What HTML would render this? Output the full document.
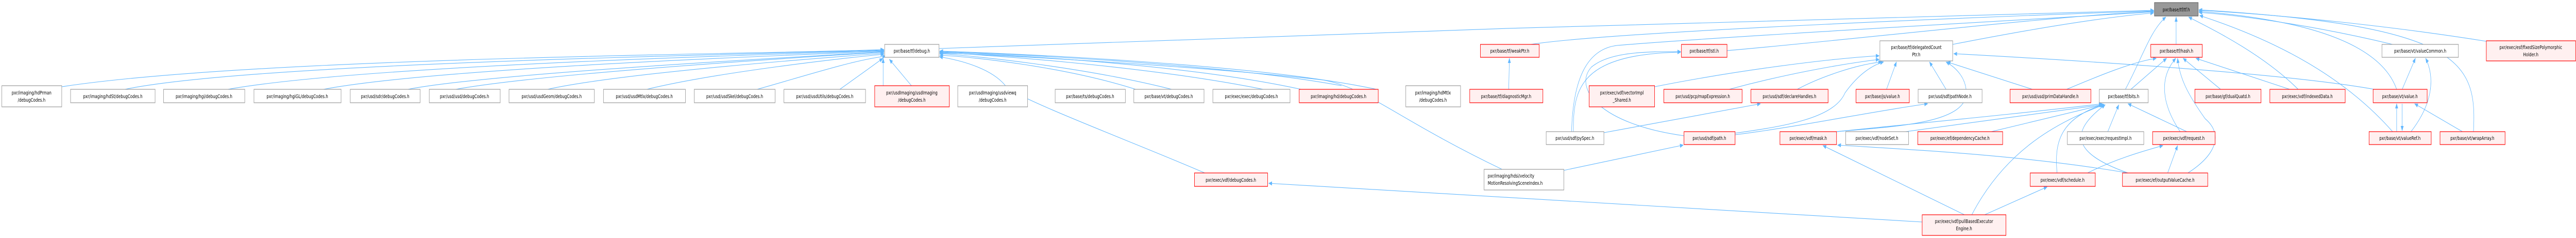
<!DOCTYPE html>
<html><head><meta charset="utf-8"><style>
html,body{margin:0;padding:0;background:#fff;overflow:hidden;width:100vw;height:100vh;}
svg{display:block;width:100vw;height:100vh;}
text{font-family:"DejaVu Sans","Liberation Sans",sans-serif;font-size:10px;fill:#000;}
.e{fill:none;stroke:#63b8ff;stroke-width:1.1;}
.w{fill:#fff;stroke:#999;stroke-width:1.2;}
.r{fill:#fff0f0;stroke:#f00;stroke-width:1.2;}
.g{fill:#999;stroke:#666;stroke-width:1.2;}
</style></head><body>
<svg viewBox="0 0 7009 461" preserveAspectRatio="none" xmlns="http://www.w3.org/2000/svg">
<defs><marker id="a" markerWidth="10" markerHeight="8" refX="9" refY="4" orient="auto" markerUnits="userSpaceOnUse"><path d="M0,0 L10,4 L0,8 z" fill="#63b8ff"/></marker></defs>
<g>
<path class="e" marker-end="url(#a)" d="M168,168 C700,110 2100,105 2405,96"/>
<path class="e" marker-end="url(#a)" d="M340,173 C700,120 2100,105 2405,97"/>
<path class="e" marker-end="url(#a)" d="M620,173 C1000,125 2150,105 2405,98"/>
<path class="e" marker-end="url(#a)" d="M880,173 C1200,130 2200,106 2405,99"/>
<path class="e" marker-end="url(#a)" d="M1110,173 C1350,140 2250,108 2405,100"/>
<path class="e" marker-end="url(#a)" d="M1240,173 C1500,140 2250,108 2405,101"/>
<path class="e" marker-end="url(#a)" d="M1490,173 C1700,140 2280,110 2405,103"/>
<path class="e" marker-end="url(#a)" d="M1760,173 C1950,140 2300,112 2405,105"/>
<path class="e" marker-end="url(#a)" d="M2060,173 C2200,145 2330,115 2410,109"/>
<path class="e" marker-end="url(#a)" d="M2285,173 C2330,150 2370,130 2402,113"/>
<path class="e" marker-end="url(#a)" d="M2403,166 L2403,113"/>
<path class="e" marker-end="url(#a)" d="M2480,166 L2420,115"/>
<path class="e" marker-end="url(#a)" d="M3090,173 C2900,130 2650,110 2557,107"/>
<path class="e" marker-end="url(#a)" d="M3188,173 C2950,130 2650,108 2557,104"/>
<path class="e" marker-end="url(#a)" d="M3437,173 C3100,125 2650,105 2557,102"/>
<path class="e" marker-end="url(#a)" d="M3540,173 C3200,120 2650,103 2557,101"/>
<path class="e" marker-end="url(#a)" d="M3650,166 C3300,120 2650,102 2557,100"/>
<path class="e" marker-end="url(#a)" d="M3745,173 C3400,120 2650,101 2557,99"/>
<path class="e" marker-end="url(#a)" d="M4087,328 C3800,230 3720,170 3600,155 C3300,130 2700,105 2557,103"/>
<path class="e" marker-end="url(#a)" d="M3278,335 C3100,280 2800,200 2740,170 C2700,130 2600,115 2556,110"/>
<path class="e" marker-end="url(#a)" d="M2555,94 C3500,70 5000,30 5860,20"/>
<path class="e" marker-end="url(#a)" d="M4165,86 C4400,60 5500,30 5860,21"/>
<path class="e" marker-end="url(#a)" d="M4105,173 L4107,113"/>
<path class="e" marker-end="url(#a)" d="M4699,98 C5000,80 5600,30 5860,22"/>
<path class="e" marker-end="url(#a)" d="M4281,255 C4280,170 4300,105 4573,101"/>
<path class="e" marker-end="url(#a)" d="M4276,255 C4280,150 4320,95 4400,88 C4700,70 5600,35 5860,23"/>
<path class="e" marker-end="url(#a)" d="M4582,263 C4350,240 4280,170 4330,130 C4380,100 4480,100 4573,100"/>
<path class="e" marker-end="url(#a)" d="M4364,257 L4790,201"/>
<path class="e" marker-end="url(#a)" d="M4502,168 C4700,140 4950,115 5113,108"/>
<path class="e" marker-end="url(#a)" d="M4705,173 C4850,145 5000,125 5113,115"/>
<path class="e" marker-end="url(#a)" d="M4255,330 L4580,281"/>
<path class="e" marker-end="url(#a)" d="M4890,173 C4950,150 5050,125 5120,120"/>
<path class="e" marker-end="url(#a)" d="M4721,261 C4900,245 5100,215 5245,201"/>
<path class="e" marker-end="url(#a)" d="M4721,258 C4850,245 4990,230 5020,180 C5060,140 5100,125 5125,120"/>
<path class="e" marker-end="url(#a)" d="M5133,173 L5160,120"/>
<path class="e" marker-end="url(#a)" d="M5295,173 L5250,120"/>
<path class="e" marker-end="url(#a)" d="M5530,173 L5298,120"/>
<path class="e" marker-end="url(#a)" d="M4997,255 C5150,245 5350,240 5350,180 C5350,150 5320,130 5295,120"/>
<path class="e" marker-end="url(#a)" d="M5313,86 C5500,60 5700,35 5860,25"/>
<path class="e" marker-end="url(#a)" d="M6460,173 C6200,140 5600,115 5316,104"/>
<path class="e" marker-end="url(#a)" d="M5623,173 C5700,150 5800,120 5867,113"/>
<path class="e" marker-end="url(#a)" d="M5783,173 C5830,110 5850,60 5893,33"/>
<path class="e" marker-end="url(#a)" d="M5798,173 L5895,113"/>
<path class="e" marker-end="url(#a)" d="M5921,86 L5921,33"/>
<path class="e" marker-end="url(#a)" d="M6253,173 C6150,100 6000,50 5955,33"/>
<path class="e" marker-end="url(#a)" d="M6230,173 L5975,113"/>
<path class="e" marker-end="url(#a)" d="M6042,173 L5940,113"/>
<path class="e" marker-end="url(#a)" d="M6510,255 C6380,150 6200,80 5985,30"/>
<path class="e" marker-end="url(#a)" d="M6521,173 C6480,90 6300,40 5983,22"/>
<path class="e" marker-end="url(#a)" d="M6510,86 C6300,50 6100,30 5983,24"/>
<path class="e" marker-end="url(#a)" d="M6765,80 C6500,50 6200,28 5983,20"/>
<path class="e" marker-end="url(#a)" d="M6730,255 C6740,120 6700,50 5983,19"/>
<path class="e" marker-end="url(#a)" d="M6536,173 L6572,113"/>
<path class="e" marker-end="url(#a)" d="M6560,255 C6620,200 6625,150 6600,113"/>
<path class="e" marker-end="url(#a)" d="M6521,255 L6521,201"/>
<path class="e" marker-end="url(#a)" d="M6536,201 L6536,253"/>
<path class="e" marker-end="url(#a)" d="M6700,255 L6570,201"/>
<path class="e" marker-end="url(#a)" d="M5932,255 C5880,200 5875,150 5920,113"/>
<path class="e" marker-end="url(#a)" d="M5953,335 C6030,300 6050,260 6000,230 C5950,180 5930,150 5925,113"/>
<path class="e" marker-end="url(#a)" d="M4997,255 C5200,240 5500,220 5720,201"/>
<path class="e" marker-end="url(#a)" d="M5185,255 C5400,235 5600,215 5720,203"/>
<path class="e" marker-end="url(#a)" d="M5418,255 L5722,203"/>
<path class="e" marker-end="url(#a)" d="M5597,335 C5590,280 5600,230 5725,202"/>
<path class="e" marker-end="url(#a)" d="M5790,335 C5650,300 5620,260 5728,203"/>
<path class="e" marker-end="url(#a)" d="M5365,416 C5450,300 5580,240 5725,203"/>
<path class="e" marker-end="url(#a)" d="M5735,255 L5765,203"/>
<path class="e" marker-end="url(#a)" d="M5950,255 L5790,201"/>
<path class="e" marker-end="url(#a)" d="M5790,335 C5500,300 5200,290 5000,281"/>
<path class="e" marker-end="url(#a)" d="M5898,335 L5925,282"/>
<path class="e" marker-end="url(#a)" d="M5680,335 C5750,310 5820,295 5885,282"/>
<path class="e" marker-end="url(#a)" d="M5345,416 L4960,282"/>
<path class="e" marker-end="url(#a)" d="M5400,416 L5570,362"/>
<path class="e" marker-end="url(#a)" d="M5230,430 L3452,355"/>
</g>
<g>
<rect class="g" x="5862" y="5" width="119" height="26"/><text x="5921.5" y="22" text-anchor="middle">pxr/base/tf/tf.h</text>
<rect class="w" x="2407" y="86" width="148" height="25"/><text x="2481" y="102" text-anchor="middle">pxr/base/tf/debug.h</text>
<rect class="r" x="4028" y="86" width="160" height="25"/><text x="4108" y="102" text-anchor="middle">pxr/base/tf/weakPtr.h</text>
<rect class="r" x="4575" y="86" width="124" height="25"/><text x="4637" y="102" text-anchor="middle">pxr/base/tf/stl.h</text>
<rect class="w" x="5115" y="79" width="198" height="39"/><text x="5214" y="95" text-anchor="middle">pxr/base/tf/delegatedCount</text><text x="5214" y="109" text-anchor="middle">Ptr.h</text>
<rect class="r" x="5852" y="86" width="140" height="25"/><text x="5922" y="102" text-anchor="middle">pxr/base/tf/hash.h</text>
<rect class="w" x="6481" y="86" width="208" height="25"/><text x="6585" y="102" text-anchor="middle">pxr/base/vt/valueCommon.h</text>
<rect class="r" x="6765" y="79" width="243" height="39"/><text x="6886" y="95" text-anchor="middle">pxr/exec/esf/fixedSizePolymorphic</text><text x="6886" y="109" text-anchor="middle">Holder.h</text>

<rect class="w" x="5" y="166" width="163" height="41"/><text x="86" y="183" text-anchor="middle">pxr/imaging/hdPrman</text><text x="86" y="197" text-anchor="middle">/debugCodes.h</text>
<rect class="w" x="192" y="173" width="230" height="26"/><text x="307" y="190" text-anchor="middle">pxr/imaging/hdSt/debugCodes.h</text>
<rect class="w" x="445" y="173" width="221" height="26"/><text x="555" y="190" text-anchor="middle">pxr/imaging/hgi/debugCodes.h</text>
<rect class="w" x="691" y="173" width="237" height="26"/><text x="809" y="190" text-anchor="middle">pxr/imaging/hgiGL/debugCodes.h</text>
<rect class="w" x="953" y="173" width="190" height="26"/><text x="1048" y="190" text-anchor="middle">pxr/usd/sdr/debugCodes.h</text>
<rect class="w" x="1168" y="173" width="193" height="26"/><text x="1264" y="190" text-anchor="middle">pxr/usd/usd/debugCodes.h</text>
<rect class="w" x="1385" y="173" width="232" height="26"/><text x="1501" y="190" text-anchor="middle">pxr/usd/usdGeom/debugCodes.h</text>
<rect class="w" x="1642" y="173" width="223" height="26"/><text x="1753" y="190" text-anchor="middle">pxr/usd/usdMtlx/debugCodes.h</text>
<rect class="w" x="1889" y="173" width="220" height="26"/><text x="1999" y="190" text-anchor="middle">pxr/usd/usdSkel/debugCodes.h</text>
<rect class="w" x="2133" y="173" width="222" height="26"/><text x="2244" y="190" text-anchor="middle">pxr/usd/usdUtils/debugCodes.h</text>
<rect class="r" x="2380" y="166" width="203" height="41"/><text x="2481" y="183" text-anchor="middle">pxr/usdImaging/usdImaging</text><text x="2481" y="197" text-anchor="middle">/debugCodes.h</text>
<rect class="w" x="2606" y="166" width="190" height="41"/><text x="2701" y="183" text-anchor="middle">pxr/usdImaging/usdviewq</text><text x="2701" y="197" text-anchor="middle">/debugCodes.h</text>
<rect class="w" x="2871" y="173" width="191" height="26"/><text x="2966" y="190" text-anchor="middle">pxr/base/ts/debugCodes.h</text>
<rect class="w" x="3085" y="173" width="191" height="26"/><text x="3180" y="190" text-anchor="middle">pxr/base/vt/debugCodes.h</text>
<rect class="w" x="3300" y="173" width="210" height="26"/><text x="3405" y="190" text-anchor="middle">pxr/exec/exec/debugCodes.h</text>
<rect class="r" x="3535" y="173" width="215" height="26"/><text x="3642" y="190" text-anchor="middle">pxr/imaging/hd/debugCodes.h</text>
<rect class="w" x="3825" y="166" width="149" height="41"/><text x="3899" y="183" text-anchor="middle">pxr/imaging/hdMtlx</text><text x="3899" y="197" text-anchor="middle">/debugCodes.h</text>
<rect class="r" x="3999" y="173" width="199" height="26"/><text x="4098" y="190" text-anchor="middle">pxr/base/tf/diagnosticMgr.h</text>
<rect class="r" x="4324" y="166" width="178" height="41"/><text x="4413" y="183" text-anchor="middle">pxr/exec/vdf/vectorImpl</text><text x="4413" y="197" text-anchor="middle">_Shared.h</text>
<rect class="r" x="4527" y="173" width="213" height="26"/><text x="4633" y="190" text-anchor="middle">pxr/usd/pcp/mapExpression.h</text>
<rect class="r" x="4764" y="173" width="210" height="26"/><text x="4869" y="190" text-anchor="middle">pxr/usd/sdf/declareHandles.h</text>
<rect class="r" x="5050" y="173" width="145" height="26"/><text x="5122" y="190" text-anchor="middle">pxr/base/js/value.h</text>
<rect class="w" x="5219" y="173" width="174" height="26"/><text x="5306" y="190" text-anchor="middle">pxr/usd/sdf/pathNode.h</text>
<rect class="r" x="5469" y="173" width="220" height="26"/><text x="5579" y="190" text-anchor="middle">pxr/usd/usd/primDataHandle.h</text>
<rect class="w" x="5712" y="173" width="133" height="26"/><text x="5778" y="190" text-anchor="middle">pxr/base/tf/bits.h</text>
<rect class="r" x="5972" y="173" width="180" height="26"/><text x="6062" y="190" text-anchor="middle">pxr/base/gf/dualQuatd.h</text>
<rect class="r" x="6176" y="173" width="205" height="26"/><text x="6278" y="190" text-anchor="middle">pxr/exec/vdf/indexedData.h</text>
<rect class="r" x="6457" y="173" width="147" height="26"/><text x="6530" y="190" text-anchor="middle">pxr/base/vt/value.h</text>

<rect class="w" x="4207" y="255" width="157" height="25"/><text x="4285" y="271" text-anchor="middle">pxr/usd/sdf/pySpec.h</text>
<rect class="r" x="4582" y="255" width="139" height="25"/><text x="4651" y="271" text-anchor="middle">pxr/usd/sdf/path.h</text>
<rect class="r" x="4843" y="255" width="154" height="25"/><text x="4920" y="271" text-anchor="middle">pxr/exec/vdf/mask.h</text>
<rect class="w" x="5022" y="255" width="171" height="25"/><text x="5107" y="271" text-anchor="middle">pxr/exec/vdf/nodeSet.h</text>
<rect class="r" x="5218" y="255" width="231" height="25"/><text x="5333" y="271" text-anchor="middle">pxr/exec/ef/dependencyCache.h</text>
<rect class="w" x="5625" y="255" width="208" height="25"/><text x="5729" y="271" text-anchor="middle">pxr/exec/exec/requestImpl.h</text>
<rect class="r" x="5857" y="255" width="170" height="25"/><text x="5942" y="271" text-anchor="middle">pxr/exec/vdf/request.h</text>
<rect class="r" x="6446" y="255" width="169" height="25"/><text x="6530" y="271" text-anchor="middle">pxr/base/vt/valueRef.h</text>
<rect class="r" x="6639" y="255" width="177" height="25"/><text x="6727" y="271" text-anchor="middle">pxr/base/vt/wrapArray.h</text>

<rect class="w" x="4038" y="328" width="217" height="40"/><text x="4048" y="344">pxr/imaging/hdsi/velocity</text><text x="4048" y="358">MotionResolvingSceneIndex.h</text>
<rect class="r" x="3250" y="335" width="199" height="26"/><text x="3349" y="352" text-anchor="middle">pxr/exec/vdf/debugCodes.h</text>
<rect class="r" x="5524" y="335" width="177" height="26"/><text x="5612" y="352" text-anchor="middle">pxr/exec/vdf/schedule.h</text>
<rect class="r" x="5775" y="335" width="232" height="26"/><text x="5891" y="352" text-anchor="middle">pxr/exec/ef/outputValueCache.h</text>
<rect class="r" x="5230" y="416" width="228" height="40"/><text x="5344" y="432" text-anchor="middle">pxr/exec/vdf/pullBasedExecutor</text><text x="5344" y="446" text-anchor="middle">Engine.h</text>
</g>
</svg>
</body></html>
